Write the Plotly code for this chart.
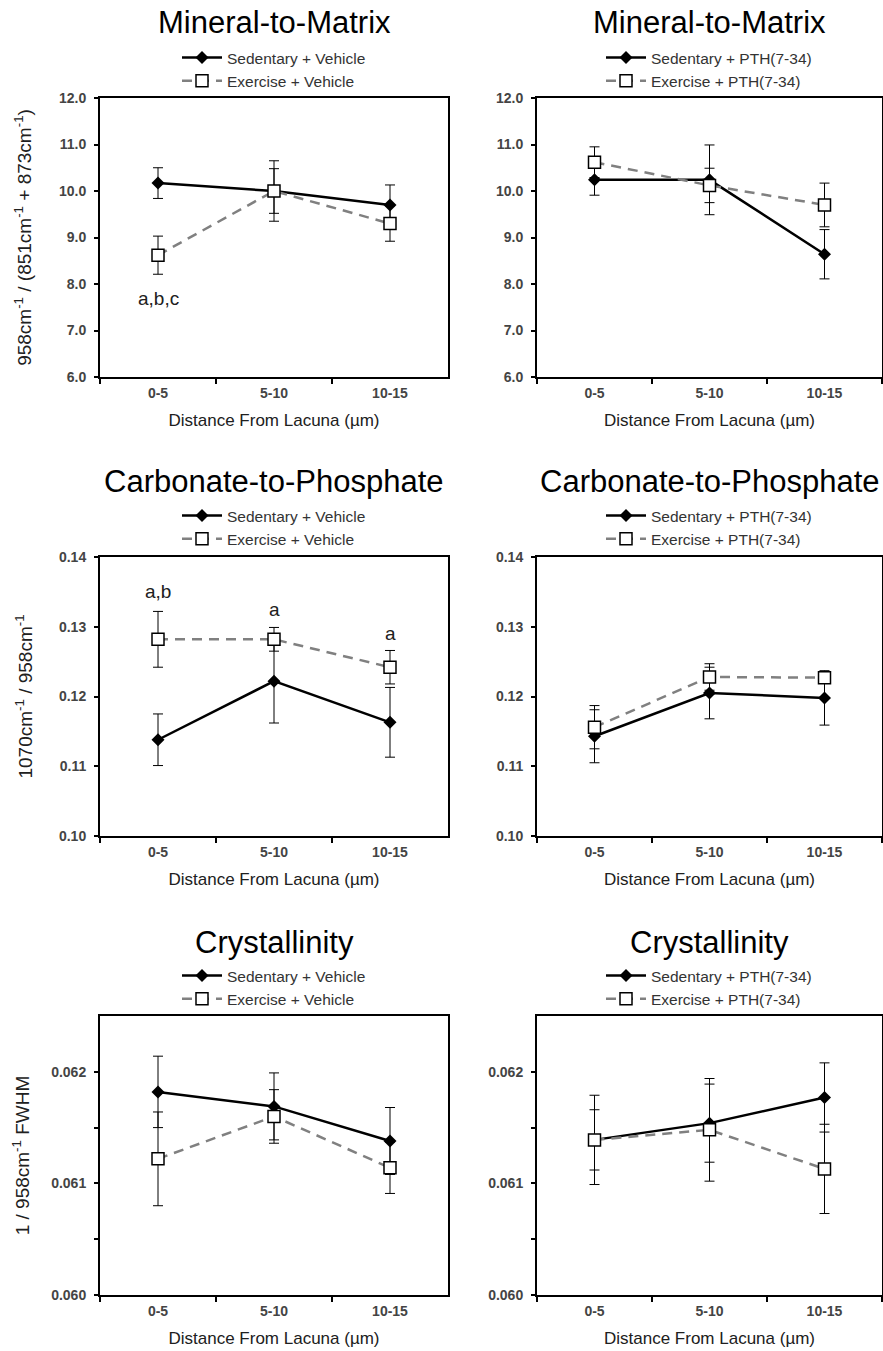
import plotly.graph_objects as go

W, H = 883, 1351

categories = ["0-5", "5-10", "10-15"]

# Mineral-to-Matrix
mm_sed_veh = [10.17, 10.00, 9.70]
mm_sed_veh_err = [0.33, 0.48, 0.43]
mm_ex_veh = [8.62, 10.00, 9.30]
mm_ex_veh_err = [0.41, 0.65, 0.38]
mm_sed_pth = [10.24, 10.24, 8.64]
mm_sed_pth_err = [0.33, 0.75, 0.53]
mm_ex_pth = [10.62, 10.12, 9.70]
mm_ex_pth_err = [0.33, 0.37, 0.47]

# Carbonate-to-Phosphate
cp_sed_veh = [0.1138, 0.1222, 0.1163]
cp_sed_veh_err = [0.0037, 0.0060, 0.0050]
cp_ex_veh = [0.1282, 0.1282, 0.1242]
cp_ex_veh_err = [0.0040, 0.0017, 0.0024]
cp_sed_pth = [0.1143, 0.1205, 0.1198]
cp_sed_pth_err = [0.0038, 0.0037, 0.0039]
cp_ex_pth = [0.1156, 0.1228, 0.1227]
cp_ex_pth_err = [0.0031, 0.0019, 0.0008]

# Crystallinity
cr_sed_veh = [0.06182, 0.06169, 0.06138]
cr_sed_veh_err = [0.00032, 0.00030, 0.00030]
cr_ex_veh = [0.06122, 0.06160, 0.06114]
cr_ex_veh_err = [0.00042, 0.00024, 0.00023]
cr_sed_pth = [0.06139, 0.06154, 0.06177]
cr_sed_pth_err = [0.00027, 0.00035, 0.00031]
cr_ex_pth = [0.06139, 0.06148, 0.06113]
cr_ex_pth_err = [0.00040, 0.00046, 0.00040]

titles = ["Mineral-to-Matrix", "Carbonate-to-Phosphate", "Crystallinity"]
y_titles = ["958cm<sup>-1</sup> / (851cm<sup>-1</sup> + 873cm<sup>-1</sup>)",
            "1070cm<sup>-1</sup> / 958cm<sup>-1</sup>",
            "1 / 958cm<sup>-1</sup> FWHM"]
x_title = "Distance From Lacuna (\u00b5m)"
sed_names = ["Sedentary + Vehicle", "Sedentary + PTH(7-34)"]
ex_names = ["Exercise + Vehicle", "Exercise + PTH(7-34)"]

# significance letters: (panel, category, y, text)
sig_panel = [1, 3, 3, 3]
sig_cat = ["0-5", "0-5", "5-10", "10-15"]
sig_y = [7.68, 0.1351, 0.1325, 0.1290]
sig_text = ["a,b,c", "a,b", "a", "a"]

FONT = "Liberation Sans, Arial, sans-serif"

panels = [
    (mm_sed_veh, mm_sed_veh_err, mm_ex_veh, mm_ex_veh_err),
    (mm_sed_pth, mm_sed_pth_err, mm_ex_pth, mm_ex_pth_err),
    (cp_sed_veh, cp_sed_veh_err, cp_ex_veh, cp_ex_veh_err),
    (cp_sed_pth, cp_sed_pth_err, cp_ex_pth, cp_ex_pth_err),
    (cr_sed_veh, cr_sed_veh_err, cr_ex_veh, cr_ex_veh_err),
    (cr_sed_pth, cr_sed_pth_err, cr_ex_pth, cr_ex_pth_err),
]

# pixel geometry (page coordinates of the reference)
col_x = [(100, 448), (537, 882)]
row_y = [(98, 377), (557, 836), (1016, 1295)]
title_y = [23, 482, 942]
legend_top = [41, 499, 959]
legend_x = [177, 601]
ytitle_standoff = [22, 21, 17]

fig = go.Figure()
layout = {}

for p, (sy, se, ey, ee) in enumerate(panels):
    r, c = divmod(p, 2)
    idx = p + 1
    xa = "x" if idx == 1 else f"x{idx}"
    ya = "y" if idx == 1 else f"y{idx}"
    lg = "legend" if idx == 1 else f"legend{idx}"
    fig.add_trace(go.Scatter(
        x=categories, y=sy, xaxis=xa, yaxis=ya, legend=lg,
        name=sed_names[c], mode="lines+markers",
        line=dict(color="black", width=2.5),
        marker=dict(symbol="diamond", size=10, color="black"),
        error_y=dict(type="data", array=se, visible=True, color="black", thickness=1, width=5),
    ))
    fig.add_trace(go.Scatter(
        x=categories, y=ey, xaxis=xa, yaxis=ya, legend=lg,
        name=ex_names[c], mode="lines+markers",
        line=dict(color="#808080", width=2.5, dash="10px,7px"),
        marker=dict(symbol="square", size=12, color="white", line=dict(color="black", width=1.5)),
        error_y=dict(type="data", array=ee, visible=True, color="black", thickness=1, width=5),
    ))
    x0, x1 = col_x[c]
    y0, y1 = row_y[r]
    xk = "xaxis" if idx == 1 else f"xaxis{idx}"
    yk = "yaxis" if idx == 1 else f"yaxis{idx}"
    layout[xk] = dict(
        domain=[x0 / W, x1 / W], anchor=ya, type="category", automargin=False,
        categoryorder="array", categoryarray=categories, range=[-0.5, 2.5],
        tickson="boundaries", ticks="outside", ticklen=5, tickwidth=1.5, tickcolor="black",
        showline=True, mirror=True, linecolor="black", linewidth=2, showgrid=False,
        ticklabelstandoff=2,
        tickfont=dict(family=FONT, size=14, color="#444444", weight="bold"),
        title=dict(text=x_title, font=dict(family=FONT, size=17, color="#202020"), standoff=14),
    )
    ydict = dict(
        domain=[1 - y1 / H, 1 - y0 / H], anchor=xa, automargin=False,
        ticks="outside", ticklen=4, tickwidth=1.5, tickcolor="black",
        showline=True, mirror=True, linecolor="black", linewidth=2,
        showgrid=False, zeroline=False, ticklabelstandoff=5,
        tickfont=dict(family=FONT, size=14, color="#444444", weight="bold"),
    )
    if r == 0:
        ydict.update(range=[6, 12], dtick=1, tickformat=".1f")
    elif r == 1:
        ydict.update(range=[0.10, 0.14], dtick=0.01, tickformat=".2f")
    else:
        ydict.update(range=[0.060, 0.0625], tickmode="array",
                     tickvals=[0.060, 0.0605, 0.061, 0.0615, 0.062],
                     ticktext=["0.060", "", "0.061", "", "0.062"])
    if c == 0:
        ydict["title"] = dict(text=y_titles[r], font=dict(family=FONT, size=19, color="#202020"),
                              standoff=ytitle_standoff[r])
    layout[yk] = ydict
    layout[lg] = dict(
        x=legend_x[c] / W, y=1 - legend_top[r] / H, xanchor="left", yanchor="top",
        bgcolor="rgba(0,0,0,0)", borderwidth=0, itemwidth=40,
        font=dict(family=FONT, size=15.5, color="#333333"),
    )

annotations = []
for r in range(3):
    for c in range(2):
        x0, x1 = col_x[c]
        annotations.append(dict(
            text=titles[r], xref="paper", yref="paper",
            x=(x0 + x1) / 2 / W, y=1 - title_y[r] / H,
            xanchor="center", yanchor="middle", showarrow=False,
            font=dict(family=FONT, size=31, color="black"),
        ))
for pnl, cat, yv, txt in zip(sig_panel, sig_cat, sig_y, sig_text):
    annotations.append(dict(
        text=txt, xref="x" if pnl == 1 else f"x{pnl}", yref="y" if pnl == 1 else f"y{pnl}",
        x=cat, y=yv, showarrow=False, font=dict(family=FONT, size=19, color="#202020"),
    ))

fig.update_layout(
    width=W, height=H, margin=dict(l=0, r=0, t=0, b=0, autoexpand=False),
    paper_bgcolor="white", plot_bgcolor="white",
    showlegend=True, annotations=annotations, **layout,
)

fig.write_html(
    "out.html",
    config={"displayModeBar": False},
    post_script="document.body.style.margin='0';document.body.style.overflow='hidden';",
)
